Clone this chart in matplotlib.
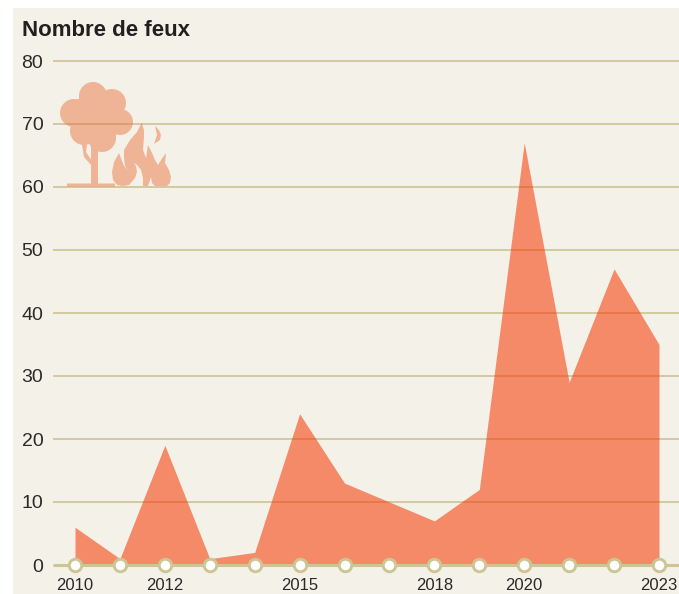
import matplotlib
matplotlib.use('Agg')
import matplotlib.pyplot as plt
from matplotlib.patches import PathPatch
from matplotlib.path import Path
import numpy as np

plt.rcParams['font.family'] = ['Liberation Sans', 'DejaVu Sans']

years = [2010, 2011, 2012, 2013, 2014, 2015, 2016, 2017, 2018, 2019, 2020, 2021, 2022, 2023]
fires = [6, 1, 19, 1, 2, 24, 13, 10, 7, 12, 67, 29, 47, 35]
labelled_years = [2010, 2012, 2015, 2018, 2020, 2023]
y_ticks = [0, 10, 20, 30, 40, 50, 60, 70, 80]
title = 'Nombre de feux'

W, H = 679, 594
BG = '#f4f1e8'
GRID = '#c9bf8f'
BASE = '#cdc594'


def poly(points):
    # all shapes wound the same way so the compound path fills as one union
    pts = np.array(points, dtype=float)
    x, y = pts[:, 0], pts[:, 1]
    if np.dot(x, np.roll(y, -1)) - np.dot(y, np.roll(x, -1)) < 0:
        pts = pts[::-1]
    return Path(np.vstack([pts, pts[:1]]), closed=True)


def circle(cx, cy, r):
    t = np.linspace(0, 2 * np.pi, 48, endpoint=False)
    return poly(np.column_stack([cx + r * np.cos(t), cy + r * np.sin(t)]))


fig = plt.figure(figsize=(W / 100, H / 100), dpi=100, facecolor='white')
panel = fig.add_axes([13 / W, 0, (W - 13) / W, (H - 8) / H], facecolor=BG)
panel.set_xticks([])
panel.set_yticks([])
for s in panel.spines.values():
    s.set_visible(False)

# main axes, placed to line up with the plot area
ax = fig.add_axes([53 / W, (H - 565) / H, (W - 53) / W, (565 - 61) / H])
ax.patch.set_visible(False)
step = (659.5 - 75.5) / 13
ax.set_xlim(2010 - 22 / step, 2023 + 20 / step)
ax.set_ylim(0, 80)

for v in y_ticks[1:]:
    ax.axhline(v, color=GRID, lw=1.1, zorder=1, clip_on=False, solid_capstyle='butt')
ax.fill_between(years, fires, 0, color='#f73600', alpha=0.55, lw=0, zorder=2)
ax.axhline(0, color=BASE, lw=2.2, zorder=3, clip_on=False, solid_capstyle='butt')
ax.plot(years, [0] * len(years), 'o', ms=9, mfc='white', mec=BASE, mew=2.1, zorder=4, clip_on=False)

ax.set_yticks(y_ticks)
ax.set_xticks(years)
ax.set_xticklabels([str(y) if y in labelled_years else '' for y in years])
ax.tick_params(axis='y', length=0, pad=7, labelsize=14, labelcolor='#2a2a28')
ax.tick_params(axis='x', length=0, pad=9.5, labelsize=12, labelcolor='#2a2a28')
for s in ax.spines.values():
    s.set_visible(False)

fig.text(22 / W, (H - 36) / H, title, fontsize=16, fontweight='bold', color='#231f20', va='baseline')

# tree and flames icon, in image pixels
over = fig.add_axes([0, 0, 1, 1])
over.set_xlim(0, W)
over.set_ylim(H, 0)
over.axis('off')
shapes = [
    circle(93, 96, 14), circle(112, 103, 14), circle(74, 113, 14), circle(120, 122, 13),
    circle(84, 131, 14), circle(102, 138, 14), circle(96, 118, 26),
    poly([(91, 145), (98, 145), (98, 186), (91, 186)]),
    poly([(67, 183.5), (115, 183.5), (115, 186.5), (67, 186.5)]),
    poly([(82, 145), (87, 145), (86, 152), (92, 161), (92, 166), (84, 157)]),
    poly([(119, 153), (124, 166), (128, 170), (134, 163), (136, 166), (137, 172), (135, 178),
          (129, 185), (123, 186), (117, 185), (113, 180), (112, 172), (114, 162)]),
    poly([(134, 163), (128, 170), (125, 166), (124, 158), (124, 150), (130, 140), (137, 132),
          (141.7, 122.7), (144, 130), (144, 137), (143, 150), (146, 158), (148, 145), (152, 153),
          (155, 160), (158, 165), (161, 160), (166, 153), (165, 163), (169, 170), (171, 177),
          (170, 183), (167, 186), (155, 186), (152, 183), (151, 177), (150, 180), (148, 186),
          (143, 186), (143, 178), (141, 170), (137, 165)]),
    poly([(155, 126), (159, 130), (161, 135), (160, 140), (154, 144), (157, 135)]),
]
over.add_patch(PathPatch(Path.make_compound_path(*shapes), facecolor=(0.92, 0.41, 0.2), alpha=0.45,
                         edgecolor='none', lw=0))

fig.savefig('out.png', dpi=100)
